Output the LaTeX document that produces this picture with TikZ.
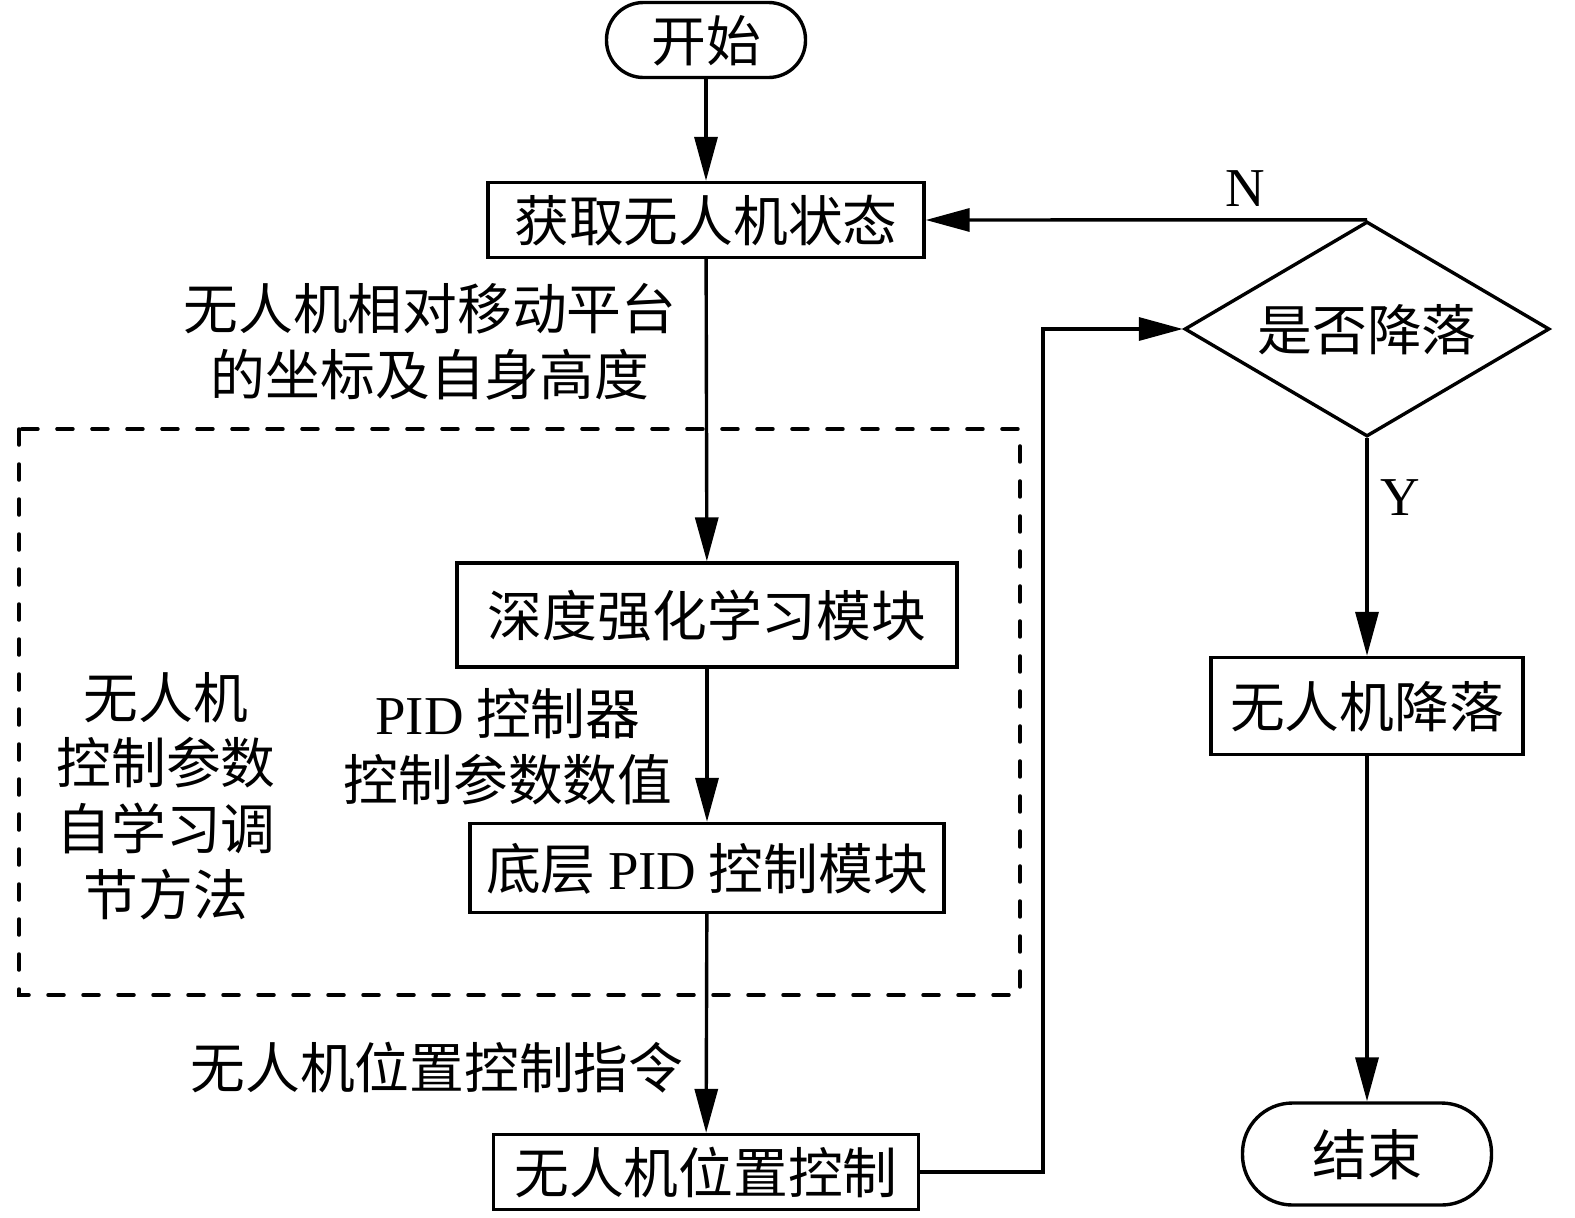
\documentclass[tikz,border=0pt]{standalone}
\usepackage{fontspec}
\setmainfont{Noto Sans CJK SC}
\newfontfamily\lat{Liberation Serif}
\usetikzlibrary{arrows.meta,shapes.geometric}
\begin{document}
\begin{tikzpicture}[x=1bp,y=-1bp,
  txt/.style={font=\fontsize{55}{66}\selectfont, inner sep=0pt},
  one/.style={txt, text height=46bp, text depth=4bp},
  latin/.style={inner sep=0pt, font=\lat\fontsize{55}{60}\selectfont, text height=36bp, text depth=0bp},
  box/.style={one, draw, line width=3.4bp},
  term/.style={box, rounded corners=37bp},
  arr/.style={line width=3.4bp, -{Triangle[length=44bp,width=23bp]}}
]
\useasboundingbox (0,0) rectangle (1575,1217);
\node[term, minimum width=199bp, minimum height=75bp] (start) at (706,40) {开始};
\node[box, minimum width=436bp, minimum height=75bp] (get) at (706,220) {获取无人机状态};
\node[box, minimum width=500bp, minimum height=104bp] (drl) at (707,615) {深度强化学习模块};
\node[box, minimum width=474bp, minimum height=89bp] (pid) at (707,868) {底层 {\lat PID} 控制模块};
\node[box, minimum width=425bp, minimum height=75bp] (pos) at (706,1172) {无人机位置控制};
\node[box, diamond, aspect=1.7, minimum width=365bp, minimum height=215bp] (dec) at (1367,329) {是否降落};
\node[box, minimum width=312bp, minimum height=97bp] (land) at (1367,706) {无人机降落};
\node[box, rounded corners=50bp, minimum width=249bp, minimum height=102bp] (end) at (1367,1154) {结束};

\draw[line width=3.5bp, dash pattern=on 16bp off 19bp, line cap=round] (19,429) rectangle (1020,995);

\node[txt, align=center] (lab1) at (430,342) {无人机相对移动平台\\的坐标及自身高度};
\node[txt, align=center] (lab2) at (508,747) {{\lat PID} 控制器\\控制参数数值};
\node[txt, align=center] (lab3) at (166,796) {无人机\\控制参数\\自学习调\\节方法};
\node[one] (lab4) at (437,1067) {无人机位置控制指令};
\node[latin] (lN) at (1245,188) {N};
\node[latin] (lY) at (1400,497) {Y};

\coordinate (turn) at (1043,700);
\draw[arr] (start) -- (get);
\draw[arr] (get) -- (drl);
\draw[arr] (drl) -- (pid);
\draw[arr] (pid) -- (pos);
\draw[arr] (pos.east) -| (turn) |- (dec.west);
\draw[arr] (dec.north) -- (get.east);
\draw[arr] (dec.south) -- (land);
\draw[arr] (land) -- (end);
\end{tikzpicture}
\end{document}
